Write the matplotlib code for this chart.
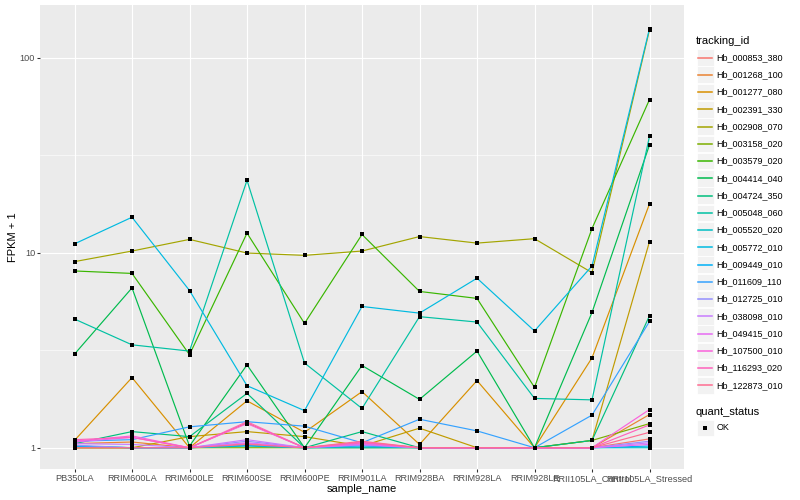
import numpy as np
import matplotlib
matplotlib.use('Agg')
from matplotlib import pyplot as plt
from matplotlib.lines import Line2D
from matplotlib.patches import Rectangle

plt.rcParams['font.family'] = ['Liberation Sans', 'DejaVu Sans']

samples = ['PB350LA', 'RRIM600LA', 'RRIM600LE', 'RRIM600SE', 'RRIM600PE',
           'RRIM901LA', 'RRIM928BA', 'RRIM928LA', 'RRIM928LE',
           'RRII105LA_Control', 'RRII105LA_Stressed']

tracking_ids = ['Hb_000853_380', 'Hb_001268_100', 'Hb_001277_080', 'Hb_002391_330',
                'Hb_002908_070', 'Hb_003158_020', 'Hb_003579_020', 'Hb_004414_040',
                'Hb_004724_350', 'Hb_005048_060', 'Hb_005520_020', 'Hb_005772_010',
                'Hb_009449_010', 'Hb_011609_110', 'Hb_012725_010', 'Hb_038098_010',
                'Hb_049415_010', 'Hb_107500_010', 'Hb_116293_020', 'Hb_122873_010']

# FPKM + 1, one list per gene, in sample order
hb_000853_380 = [1.00, 1.00, 1.00, 1.05, 1.00, 1.06, 1.00, 1.00, 1.00, 1.00, 1.11]
hb_001268_100 = [1.05, 1.07, 1.00, 1.34, 1.00, 1.04, 1.00, 1.00, 1.00, 1.00, 1.48]
hb_001277_080 = [1.09, 2.29, 1.00, 1.74, 1.20, 1.94, 1.04, 2.21, 1.00, 2.89, 17.8]
hb_002391_330 = [1.00, 1.00, 1.14, 1.21, 1.14, 1.02, 1.26, 1.00, 1.00, 1.09, 11.4]
hb_002908_070 = [9.00, 10.2, 11.7, 9.96, 9.69, 10.2, 12.1, 11.2, 11.8, 7.90, 139.]
hb_003158_020 = [1.00, 1.00, 1.00, 1.00, 1.00, 1.00, 1.00, 1.00, 1.00, 1.09, 1.33]
hb_003579_020 = [8.06, 7.83, 3.00, 12.6, 4.34, 12.4, 6.33, 5.83, 2.04, 13.3, 61.0]
hb_004414_040 = [3.02, 6.60, 1.02, 2.66, 1.00, 2.64, 1.77, 3.13, 1.00, 4.94, 35.7]
hb_004724_350 = [1.05, 1.21, 1.14, 1.90, 1.00, 1.21, 1.00, 1.00, 1.00, 1.09, 4.75]
hb_005048_060 = [4.57, 3.37, 3.13, 23.5, 2.72, 1.59, 4.70, 4.41, 1.79, 1.76, 39.5]
hb_005520_020 = [1.02, 1.00, 1.00, 1.02, 1.00, 1.00, 1.00, 1.00, 1.00, 1.00, 1.00]
hb_005772_010 = [11.1, 15.2, 6.40, 2.08, 1.55, 5.30, 4.90, 7.40, 3.97, 8.55, 141.]
hb_009449_010 = [1.02, 1.00, 1.00, 1.03, 1.00, 1.02, 1.00, 1.00, 1.00, 1.00, 1.02]
hb_011609_110 = [1.08, 1.10, 1.28, 1.36, 1.29, 1.06, 1.40, 1.22, 1.00, 1.47, 4.44]
hb_012725_010 = [1.03, 1.00, 1.00, 1.08, 1.00, 1.03, 1.00, 1.00, 1.00, 1.00, 1.08]
hb_038098_010 = [1.05, 1.04, 1.00, 1.10, 1.00, 1.05, 1.00, 1.00, 1.00, 1.00, 1.06]
hb_049415_010 = [1.07, 1.13, 1.00, 1.06, 1.00, 1.04, 1.00, 1.00, 1.00, 1.00, 1.04]
hb_107500_010 = [1.08, 1.15, 1.00, 1.33, 1.00, 1.07, 1.00, 1.00, 1.00, 1.00, 1.57]
hb_116293_020 = [1.10, 1.13, 1.00, 1.36, 1.00, 1.06, 1.00, 1.00, 1.00, 1.00, 1.31]
hb_122873_010 = [1.00, 1.00, 1.00, 1.04, 1.00, 1.08, 1.00, 1.00, 1.00, 1.00, 1.20]

series = [hb_000853_380, hb_001268_100, hb_001277_080, hb_002391_330,
          hb_002908_070, hb_003158_020, hb_003579_020, hb_004414_040,
          hb_004724_350, hb_005048_060, hb_005520_020, hb_005772_010,
          hb_009449_010, hb_011609_110, hb_012725_010, hb_038098_010,
          hb_049415_010, hb_107500_010, hb_116293_020, hb_122873_010]

# ggplot2 default hue palette for 20 levels
colors = ['#F8766D', '#EA8331', '#D89000', '#C09B00', '#A3A500', '#7CAE00',
          '#39B600', '#00BB4E', '#00BF7D', '#00C1A3', '#00BFC4', '#00BAE0',
          '#00B0F6', '#35A2FF', '#9590FF', '#C77CFF', '#E76BF3', '#FA62DB',
          '#FF62BC', '#FF6C91']

W, H = 800, 500
fig = plt.figure(figsize=(8, 5), dpi=100)
ax = fig.add_axes([40/W, 1-469/H, (684-40)/W, (469-5)/H])
ax.set_facecolor('#EBEBEB')
for s in ax.spines.values():
    s.set_visible(False)

x = np.arange(len(samples))
for vals, c in zip(series, colors):
    ax.plot(x, vals, color=c, lw=0.85, zorder=2)
for vals in series:
    ax.plot(x, vals, 's', color='black', ms=3, mew=0, zorder=3)

ax.set_yscale('log')
ax.set_ylim(10**-0.109, 10**2.27)
ax.set_xlim(-0.6, len(samples)-1+0.6)
ax.set_yticks([1, 10, 100])
ax.set_yticklabels(['1', '10', '100'])
ax.set_yticks([10**0.5, 10**1.5], minor=True)
ax.yaxis.set_minor_formatter(plt.NullFormatter())
ax.set_xticks(x)
ax.set_xticklabels(samples)
ax.tick_params(axis='both', which='major', labelsize=6.6, colors='#333333',
               labelcolor='#4D4D4D', length=2, width=0.77, pad=1.5)
ax.tick_params(axis='y', which='minor', length=0)
ax.grid(True, which='major', color='white', lw=0.8, zorder=0)
ax.grid(True, which='minor', axis='y', color='white', lw=0.4, zorder=0)
ax.set_axisbelow(True)

fig.text(362/W, 1-489/H, 'sample_name', ha='center', va='center', fontsize=8)
fig.text(13/W, 1-237/H, 'FPKM + 1', ha='center', va='center', rotation=90, fontsize=8)

# legend: tracking_id
fig.text(696/W, 1-40.5/H, 'tracking_id', ha='left', va='center', fontsize=8)
for i, (tid, c) in enumerate(zip(tracking_ids, colors)):
    yc = 57.5 + i*17.26
    fig.add_artist(Rectangle((697/W, 1-(yc+8.3)/H), 16.6/W, 16.6/H,
                             transform=fig.transFigure, facecolor='#F2F2F2',
                             edgecolor='white', lw=0.6, zorder=1))
    fig.add_artist(Line2D([698/W, 712/W], [1-yc/H, 1-yc/H], transform=fig.transFigure,
                          color=c, lw=1.1, zorder=3))
    fig.text(716.7/W, 1-yc/H, tid, ha='left', va='center', fontsize=6.5)

# legend: quant_status
fig.text(696/W, 1-411.7/H, 'quant_status', ha='left', va='center', fontsize=8)
fig.add_artist(Rectangle((697/W, 1-(428+8.3)/H), 16.6/W, 16.6/H,
                         transform=fig.transFigure, facecolor='#F2F2F2',
                         edgecolor='white', lw=0.6, zorder=1))
fig.add_artist(Line2D([705.3/W], [1-428/H], transform=fig.transFigure, marker='s',
                      color='black', ms=3, mew=0, lw=0, zorder=3))
fig.text(716.7/W, 1-428/H, 'OK', ha='left', va='center', fontsize=6.5)

fig.savefig('out.png', dpi=100)
